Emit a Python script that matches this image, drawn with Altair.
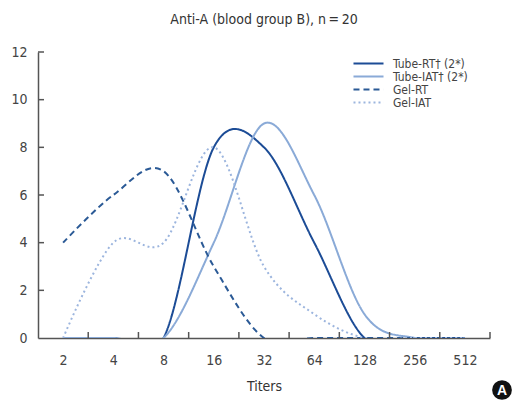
import json
import altair as alt
import pandas as pd

# ---- data ----
titers = ["2", "4", "8", "16", "32", "64", "128", "256", "512"]
tube_rt = [0, 0, 0, 8, 8, 4, 0, 0, 0]
tube_iat = [0, 0, 0, 4, 9, 6, 1, 0, 0]
gel_rt = [4, 6, 7, 3, 0, 0, 0, 0, 0]
gel_iat = [0, 4, 4, 8, 3, 1, 0, 0, 0]

series_names = ["Tube-RT\u2020 (2*)", "Tube-IAT\u2020 (2*)", "Gel-RT", "Gel-IAT"]
series_values = [tube_rt, tube_iat, gel_rt, gel_iat]
colors = ["#1c4c96", "#8aaad7", "#2b5a96", "#9cb5de"]
dashes = [[1, 0], [1, 0], [6, 4], [2, 3]]
y_ticks = [0, 2, 4, 6, 8, 10, 12]

rows = []
for name, vals in zip(series_names, series_values):
    for i, v in enumerate(vals):
        rows.append({"idx": i, "titer": titers[i], "value": v, "series": name})
df = pd.DataFrame(rows)

W, H = 452, 286
FONT = "DejaVu Sans Condensed, Liberation Sans"
label_expr = json.dumps(titers) + "[datum.value]"

x_scale = alt.Scale(domain=[-0.5, len(titers) - 0.5], nice=False, zero=False)
y_scale = alt.Scale(domain=[0, 12], nice=False)

lines = alt.Chart(df).mark_line(
    interpolate="cardinal", tension=0, clip=True, strokeWidth=2
).encode(
    x=alt.X("idx:Q", scale=x_scale,
            axis=alt.Axis(values=list(range(len(titers))), labelExpr=label_expr,
                          ticks=False, grid=False, title="Titers",
                          labelPadding=15, titlePadding=12)),
    y=alt.Y("value:Q", scale=y_scale,
            axis=alt.Axis(values=y_ticks, ticks=False, grid=False, title=None,
                          labelPadding=11)),
    color=alt.Color("series:N", scale=alt.Scale(domain=series_names, range=colors),
                    title=None),
    strokeDash=alt.StrokeDash("series:N", scale=alt.Scale(domain=series_names, range=dashes),
                              title=None),
    order=alt.Order("idx:Q"),
)

xt = pd.DataFrame({"pos": [i + 0.5 for i in range(len(titers))]})
x_ticks = alt.Chart(xt).mark_rule(color="#555", strokeWidth=1.5).encode(
    x=alt.X("pos:Q", scale=x_scale), y=alt.value(H), y2=alt.value(H - 6)
)
yt = pd.DataFrame({"v": y_ticks[1:]})
y_tick_marks = alt.Chart(yt).mark_rule(color="#555", strokeWidth=1.5).encode(
    y=alt.Y("v:Q", scale=y_scale), x=alt.value(0), x2=alt.value(6)
)

badge_data = alt.Data(values=[{"label": "A"}])
badge_circle = alt.Chart(badge_data).mark_circle(
    size=390, color="#111", opacity=1
).encode(x=alt.value(464), y=alt.value(338))
badge_text = alt.Chart(badge_data).mark_text(
    color="white", fontWeight="bold", fontSize=14, font="Liberation Sans",
    baseline="middle", align="center"
).encode(x=alt.value(464), y=alt.value(339), text="label:N")

chart = alt.layer(lines, x_ticks, y_tick_marks, badge_circle, badge_text).properties(
    width=W, height=H,
    title=alt.TitleParams("Anti-A (blood group B), n\u2009=\u200920", fontSize=14,
                          fontWeight="normal", color="#333", font=FONT, offset=18),
    autosize=alt.AutoSizeParams(type="none"),
    padding={"left": 38, "top": 52, "right": 26, "bottom": 62},
).configure_view(stroke=None).configure_axis(
    domainColor="#555", domainWidth=1.5, labelColor="#444", labelFontSize=14,
    labelFont=FONT, titleFont=FONT, titleFontSize=14, titleFontWeight="normal",
    titleColor="#333"
).configure_legend(
    orient="none", legendX=324, legendY=5, padding=0,
    symbolType="M-2.73,0H2.73", symbolSize=121, symbolStrokeWidth=2,
    labelFont=FONT, labelFontSize=12, labelColor="#444", labelOffset=18,
    rowPadding=0
)

chart.save("out.html", embed_options={"renderer": "svg", "actions": False})
